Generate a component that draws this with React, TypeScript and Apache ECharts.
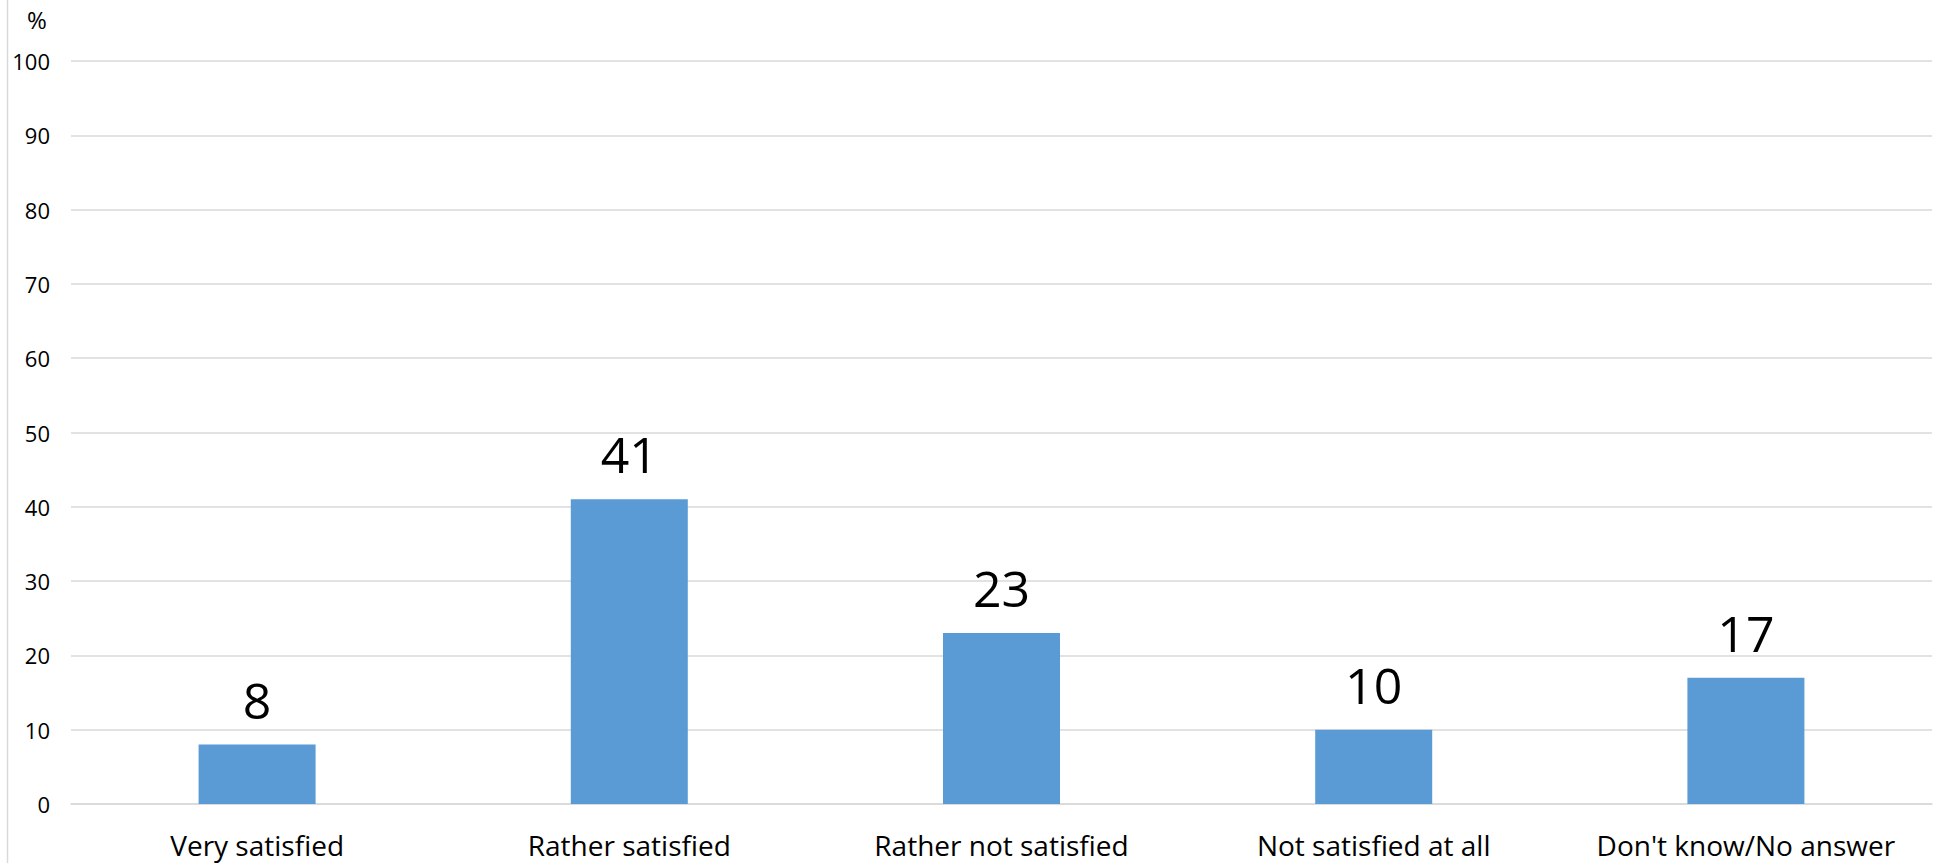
import React, { useEffect, useRef } from "react";
import * as echarts from "echarts";

const categories = ["Very satisfied", "Rather satisfied", "Rather not satisfied", "Not satisfied at all", "Don't know/No answer"];
const values = [8, 41, 23, 10, 17];
const yMin = 0;
const yMax = 100;
const yInterval = 10;
const unitLabel = "%";

const FONT = "'Open Sans', 'Noto Sans', sans-serif";

export default function App() {
  const ref = useRef<HTMLDivElement>(null);
  useEffect(() => {
    if (!ref.current) return;
    const chart = echarts.init(ref.current, undefined, { renderer: "svg" });
    chart.setOption({
      animation: false,
      backgroundColor: "#ffffff",
      grid: { left: 71, right: 4, top: 61, bottom: 59, containLabel: false },
      xAxis: {
        type: "category",
        data: categories,
        axisLine: { show: true, lineStyle: { color: "#d9d9d9", width: 1.5 } },
        axisTick: { show: false },
        axisLabel: { color: "#000", fontFamily: FONT, fontSize: 28, margin: 27, interval: 0 },
      },
      yAxis: {
        type: "value",
        min: yMin,
        max: yMax,
        interval: yInterval,
        axisLine: { show: false },
        axisTick: { show: false },
        axisLabel: { color: "#000", fontFamily: FONT, fontSize: 22, margin: 21 },
        splitLine: { show: true, lineStyle: { color: "#d9d9d9", width: 1.5 } },
      },
      graphic: [
        {
          type: "line",
          shape: { x1: 7.5, y1: 0, x2: 7.5, y2: 863 },
          style: { stroke: "#d9d9d9", lineWidth: 1.5 },
          silent: true,
        },
        {
          type: "text",
          x: 37,
          y: 19,
          style: { text: unitLabel, fill: "#000", font: `24px ${FONT}`, textAlign: "center", textVerticalAlign: "middle" },
        },
      ],
      series: [
        {
          type: "bar",
          data: values,
          barWidth: 117,
          itemStyle: { color: "#5b9bd5" },
          label: {
            show: true,
            position: "top",
            distance: 20,
            color: "#000",
            fontFamily: FONT,
            fontSize: 50,
          },
        },
      ],
    });
    return () => chart.dispose();
  }, []);
  return <div ref={ref} style={{ position: "fixed", left: 0, top: 0, width: 1936, height: 863 }} />;
}
